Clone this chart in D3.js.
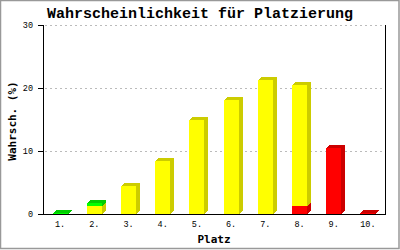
<!DOCTYPE html>
<html><head><meta charset="utf-8">
<script src="https://cdn.jsdelivr.net/npm/d3@7"></script>
<style>body{margin:0;background:#fff}svg{display:block}</style>
</head><body>
<svg id="c" width="400" height="250"></svg>
<script>
const categories = ["1.","2.","3.","4.","5.","6.","7.","8.","9.","10."];
const redValues    = [0, 0, 0, 0, 0, 0, 0, 1.2, 10.5, 0.2];
const yellowValues = [0, 1.3, 4.4, 8.4, 14.9, 18.1, 21.3, 19.3, 0, 0];
const greenValues  = [0.2, 0.4, 0, 0, 0, 0, 0, 0, 0, 0];
const yTicks = [0, 10, 20, 30];
const title = "Wahrscheinlichkeit für Platzierung";
const xTitle = "Platz";
const yTitle = "Wahrsch. (%)";

const series = [
  {name:"red", values:redValues, front:"#ff0000", dark:"#cc0000"},
  {name:"yellow", values:yellowValues, front:"#ffff00", dark:"#cccc00"},
  {name:"green", values:greenValues, front:"#00ff00", dark:"#00cc00"}
];

const svg = d3.select("#c");
const mono = "'Liberation Mono','DejaVu Sans Mono',monospace";
const sansMono = "'DejaVu Sans Mono',monospace";
const L = 43, R = 385, T = 25, B = 214;
const x = d3.scaleBand().domain(categories).range([L, R]);
const y = d3.scaleLinear().domain([0, 30]).range([B, T]);

// border
svg.append("rect").attr("x",0.5).attr("y",0.5).attr("width",398.5).attr("height",248)
  .attr("fill","none").attr("stroke","#999").attr("stroke-width",1.5);

// grid
svg.append("g").selectAll("line").data(yTicks.filter(d=>d>0)).join("line")
  .attr("x1",L+2).attr("x2",R).attr("y1",d=>Math.round(y(d))+0.5).attr("y2",d=>Math.round(y(d))+0.5)
  .attr("stroke","#bbb").attr("stroke-dasharray","2,3").attr("shape-rendering","crispEdges");

// bars
const dx = 4, dy = 3;
const bw = 15;
const stack = d3.stack().keys(series.map(s=>s.name))(categories.map((c,i)=>{
  const o = {cat:c}; series.forEach(s=>o[s.name]=s.values[i]); return o;
}));
const gBars = svg.append("g").attr("shape-rendering","crispEdges");
categories.forEach((c,i)=>{
  const x0 = Math.round(x(c) + x.bandwidth()/2 - bw/2);
  const x1 = x0 + bw;
  stack.forEach((layer,k)=>{
    const [v0,v1] = layer[i];
    if (v1 - v0 <= 0) return;
    const s = series[k];
    const yb = Math.round(y(v0)), yt = Math.round(y(v1));
    gBars.append("polygon").attr("points",[[x1,yb],[x1,yt],[x1+dx,yt-dy],[x1+dx,yb-dy]].join(" "))
      .attr("fill", s.dark);
    gBars.append("polygon").attr("points",[[x0,yt],[x0+dx,yt-dy],[x1+dx,yt-dy],[x1,yt]].join(" "))
      .attr("fill", s.dark);
    gBars.append("rect").attr("x",x0).attr("y",yt).attr("width",bw).attr("height",yb-yt)
      .attr("fill", s.front);
  });
});

// axes lines
const ax = svg.append("g").attr("shape-rendering","crispEdges").attr("stroke","#000");
ax.append("line").attr("x1",L+0.5).attr("x2",L+0.5).attr("y1",T).attr("y2",B+1);
ax.append("line").attr("x1",R+0.5).attr("x2",R+0.5).attr("y1",T).attr("y2",B+1);
ax.append("line").attr("x1",L-5).attr("x2",R+1).attr("y1",B+0.5).attr("y2",B+0.5);
ax.selectAll(".tk").data(yTicks).join("line")
  .attr("x1",L-5).attr("x2",L).attr("y1",d=>Math.round(y(d))+0.5).attr("y2",d=>Math.round(y(d))+0.5);

// tick labels
svg.append("g").selectAll("text").data(yTicks).join("text")
  .attr("x",33).attr("y",d=>Math.round(y(d))+3)
  .attr("text-anchor","end").attr("font-family",mono).attr("font-size","8.5px").text(d=>d);
svg.append("g").selectAll("text").data(categories).join("text")
  .attr("x",d=>x(d)+x.bandwidth()/2).attr("y",227)
  .attr("text-anchor","middle").attr("font-family",mono).attr("font-size","8.5px").text(d=>d);

// titles
svg.append("text").attr("x",200).attr("y",18).attr("text-anchor","middle")
  .attr("font-family",mono).attr("font-weight","bold").attr("font-size","15px").text(title);
svg.append("text").attr("x",214).attr("y",243).attr("text-anchor","middle")
  .attr("font-family",sansMono).attr("font-weight","bold").attr("font-size","11px").text(xTitle);
svg.append("text").attr("transform","translate(16,121) rotate(-90)").attr("text-anchor","middle")
  .attr("font-family",sansMono).attr("font-weight","bold").attr("font-size","11px").text(yTitle);
</script>
</body></html>
